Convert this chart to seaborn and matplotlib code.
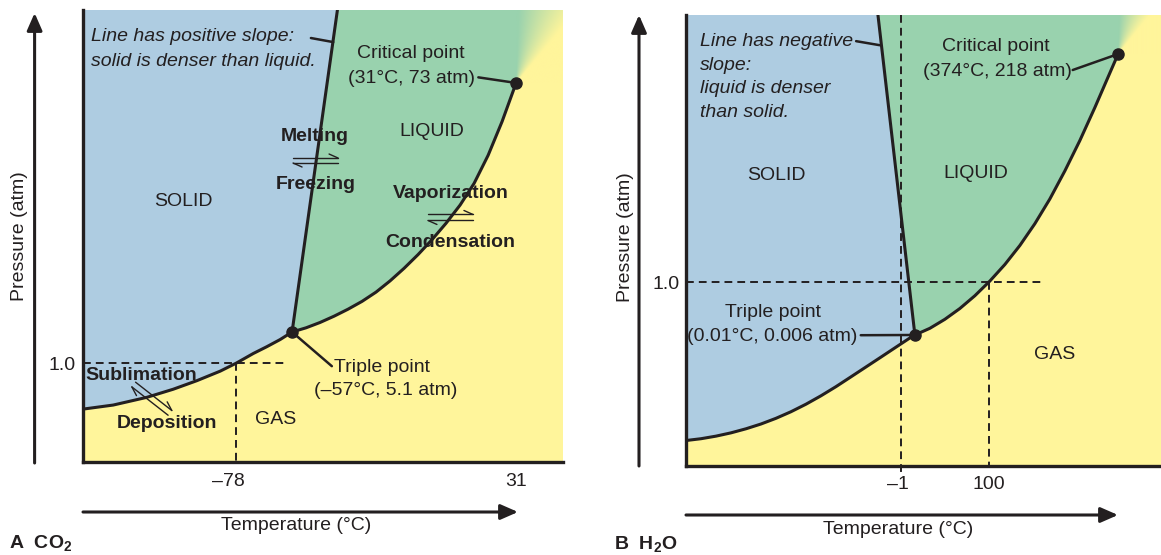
import numpy as np
import matplotlib.pyplot as plt
import matplotlib.colors as mcolors
import matplotlib.transforms as mtransforms
from matplotlib.patches import FancyArrowPatch
import seaborn as sns

# schematic units: 0-100 across the drawn phase box (not to scale)
# CO2 panel
co2_sub_t = [0.0, 6.5, 13.7, 19.4, 24.5, 29.5, 33.0, 36.6, 39.5, 42.4, 44.95]
co2_sub_p = [11.7, 12.6, 14.3, 16.1, 18.0, 20.1, 21.9, 24.0, 25.5, 27.1, 28.76]
co2_vap_t = [44.95, 47.96, 50.97, 53.98, 56.99, 60.0, 63.01, 66.02, 69.03, 72.04,
             75.05, 78.06, 81.08, 84.09, 87.1, 90.11, 93.12]
co2_vap_p = [28.76, 29.69, 30.87, 32.26, 33.81, 35.54, 37.59, 40.07, 42.85, 45.89,
             49.2, 52.83, 56.85, 61.65, 67.85, 75.34, 83.86]
co2_fus_t = [44.95, 54.7]
co2_fus_p = [28.76, 100.0]
co2_tick_t = [33.0, 93.12]
co2_tick_t_labels = ["–78", "31"]
co2_tick_p = [21.9]
co2_tick_p_labels = ["1.0"]

# H2O panel
h2o_sub_t = [0.0, 3.23, 6.45, 9.68, 12.9, 16.13, 19.35, 22.58, 25.81, 29.03, 32.26,
             35.48, 38.71, 41.94, 45.16, 48.39, 49.25]
h2o_sub_p = [5.65, 6.05, 6.62, 7.35, 8.25, 9.31, 10.57, 12.03, 13.7, 15.56, 17.59,
             19.76, 21.95, 24.14, 26.34, 28.54, 29.05]
h2o_vap_t = [49.25, 52.47, 55.7, 58.92, 62.15, 65.38, 68.6, 71.83, 75.05, 78.28,
             81.51, 84.73, 87.96, 91.18, 92.97]
h2o_vap_p = [29.05, 30.53, 32.53, 34.92, 37.75, 41.01, 44.67, 48.89, 53.71, 59.2,
             65.42, 72.14, 79.46, 87.11, 91.35]
h2o_fus_t = [49.25, 41.3]
h2o_fus_p = [29.05, 100.0]
h2o_tick_t = [46.2, 65.2]
h2o_tick_t_labels = ["–1", "100"]
h2o_tick_p = [40.7]
h2o_tick_p_labels = ["1.0"]

sns.set_style("white")
plt.rcParams["font.family"] = ["Liberation Sans", "DejaVu Sans"]
plt.rcParams["mathtext.fontset"] = "custom"
plt.rcParams["mathtext.rm"] = "Liberation Sans"
plt.rcParams["mathtext.bf"] = "Liberation Sans:bold"

INK = "#231f20"
BLUE = "#aecce1"
GREEN = "#99d2ae"
YELLOW = "#fff59b"
FS = 14
W, H = 1161, 555

fig = plt.figure(figsize=(W / 100, H / 100), dpi=100)


def px(x, y):
    return x / W, 1 - y / H


def add_box(left, top, right, bottom):
    return fig.add_axes([left / W, 1 - bottom / H, (right - left) / W, (bottom - top) / H])


def fig_arrow(x0, y0, x1, y1):
    fig.add_artist(FancyArrowPatch(px(x0, y0), px(x1, y1), transform=fig.transFigure,
                                   arrowstyle="-|>,head_length=10.5,head_width=4.6",
                                   mutation_scale=1, lw=2.2, color=INK,
                                   shrinkA=0, shrinkB=0))


def eq_arrows(ax, x, y, angle=0.0, length=45, gap=5, barb=9):
    # two half-headed arrows (forward on top, reverse below), sized in pixels
    tr = mtransforms.Affine2D().rotate_deg(angle) + mtransforms.ScaledTranslation(x, y, ax.transData)
    h, g = length / 2, gap / 2
    segs = [([-h, h], [g, g]), ([h, h - barb], [g, g + 4]),
            ([-h, h], [-g, -g]), ([-h, -h + barb], [-g, -g - 4])]
    for xs, ys in segs:
        ax.plot(xs, ys, transform=tr, color=INK, lw=1.0, zorder=6, clip_on=False)


def label(ax, x, y, s, **kw):
    opts = dict(fontsize=FS, color=INK, ha="center", va="center", zorder=7)
    opts.update(kw)
    ax.text(x, y, s, **opts)


def shift_tick_label(ax, i, dx_px):
    lab = ax.get_xticklabels()[i]
    lab.set_transform(lab.get_transform()
                      + mtransforms.ScaledTranslation(dx_px / 100, 0, fig.dpi_scale_trans))


def draw_panel(ax, sub_t, sub_p, vap_t, vap_p, fus_t, fus_p, xmax, sx, sy):
    triple = (sub_t[-1], sub_p[-1])
    crit = (vap_t[-1], vap_p[-1])
    ax.set_facecolor(YELLOW)
    ax.fill([0, fus_t[1]] + sub_t[::-1], [100, 100] + sub_p[::-1],
            color=BLUE, lw=0, zorder=1)
    ax.fill([fus_t[1], crit[0]] + vap_t[::-1], [100, 100] + vap_p[::-1],
            color=GREEN, lw=0, zorder=1)
    # supercritical fade from liquid to gas around the critical point
    gx = np.linspace(crit[0], xmax, 160)
    gy = np.linspace(crit[1], 100, 120)
    GX, GY = np.meshgrid(gx, gy)
    ang = np.degrees(np.arctan2((GX - crit[0]) * sx, (GY - crit[1]) * sy))
    t = np.clip((ang - 2) / 38, 0, 1)[..., None]
    rgb = (1 - t) * np.array(mcolors.to_rgb(GREEN)) + t * np.array(mcolors.to_rgb(YELLOW))
    ax.imshow(rgb, extent=[crit[0], xmax, crit[1], 100], origin="lower",
              aspect="auto", interpolation="bilinear", zorder=1)

    for xs, ys in [(sub_t, sub_p), (vap_t, vap_p), (fus_t, fus_p)]:
        ax.plot(xs, ys, color=INK, lw=2.2, solid_capstyle="round",
                solid_joinstyle="round", zorder=4)
    ax.plot(*triple, "o", ms=8, color=INK, zorder=6, clip_on=False)
    ax.plot(*crit, "o", ms=8, color=INK, zorder=6, clip_on=False)

    for side in ["top", "right"]:
        ax.spines[side].set_visible(False)
    for side in ["left", "bottom"]:
        ax.spines[side].set_linewidth(2.4)
        ax.spines[side].set_color(INK)
        ax.spines[side].set_zorder(5)
    ax.tick_params(length=0, labelsize=FS, colors=INK)
    ax.set_xlim(0, xmax)
    ax.set_ylim(0, 100)
    return triple, crit


DASH = dict(ls=(0, (4, 2.6)), lw=1.4, color=INK, zorder=3, clip_on=False)
LEAD = dict(color=INK, lw=1.8, zorder=5, clip_on=False)

# ---- panel A: CO2
ax1 = add_box(83, 10, 563, 462)
tp, cp = draw_panel(ax1, co2_sub_t, co2_sub_p, co2_vap_t, co2_vap_p,
                    co2_fus_t, co2_fus_p, 103.2, 4.65, 4.52)
ax1.set_xticks(co2_tick_t, co2_tick_t_labels)
ax1.set_yticks(co2_tick_p, co2_tick_p_labels)
ax1.tick_params(axis="x", pad=7.8)
ax1.tick_params(axis="y", pad=5)
shift_tick_label(ax1, 0, -8)
ax1.plot([0, 43.2], [co2_tick_p[0]] * 2, **DASH)
ax1.plot([co2_tick_t[0]] * 2, [co2_tick_p[0], 0], **DASH)

label(ax1, 1.7, 94.2, "Line has positive slope:", ha="left", fontstyle="italic")
label(ax1, 1.7, 88.7, "solid is denser than liquid.", ha="left", fontstyle="italic")
ax1.plot([49.0, 53.8], [93.8, 92.9], **LEAD)
label(ax1, 21.5, 57.7, "SOLID")
label(ax1, 75.1, 73.1, "LIQUID")
label(ax1, 41.5, 9.5, "GAS")
label(ax1, 49.9, 72.0, "Melting", fontweight="bold")
eq_arrows(ax1, 50.0, 66.7, gap=5)
label(ax1, 50.0, 61.4, "Freezing", fontweight="bold")
label(ax1, 79.0, 59.3, "Vaporization", fontweight="bold")
eq_arrows(ax1, 79.0, 54.1, gap=6)
label(ax1, 78.9, 48.5, "Condensation", fontweight="bold")
label(ax1, 12.6, 19.2, "Sublimation", fontweight="bold")
eq_arrows(ax1, 14.8, 14.0, angle=-38, length=46, gap=6)
label(ax1, 18.1, 8.6, "Deposition", fontweight="bold")
label(ax1, 70.5, 90.3, "Critical point")
label(ax1, 70.6, 84.9, "(31°C, 73 atm)")
ax1.plot([85.0, cp[0]], [85.1, cp[1]], **LEAD)
ax1.plot([tp[0], 53.5], [tp[1], 21.2], **LEAD)
label(ax1, 54.0, 21.0, "Triple point", ha="left")
label(ax1, 49.7, 15.9, "(–57°C, 5.1 atm)", ha="left")

# ---- panel B: H2O
ax2 = add_box(686, 15, 1161, 466)
tp, cp = draw_panel(ax2, h2o_sub_t, h2o_sub_p, h2o_vap_t, h2o_vap_p,
                    h2o_fus_t, h2o_fus_p, 102.2, 4.65, 4.51)
ax2.set_xticks(h2o_tick_t, h2o_tick_t_labels)
ax2.set_yticks(h2o_tick_p, h2o_tick_p_labels)
ax2.tick_params(axis="x", pad=7.2)
ax2.tick_params(axis="y", pad=4.5)
shift_tick_label(ax2, 0, -3)
ax2.plot([0, 76.8], [h2o_tick_p[0]] * 2, **DASH)
ax2.plot([h2o_tick_t[0]] * 2, [100, -1.3], **DASH)
ax2.plot([h2o_tick_t[1]] * 2, [h2o_tick_p[0], 0], **DASH)

for yy, line in zip([94.2, 88.9, 83.6, 78.3],
                    ["Line has negative", "slope:", "liquid is denser", "than solid."]):
    label(ax2, 3.0, yy, line, ha="left", fontstyle="italic")
ax2.plot([36.6, 41.7], [94.2, 93.3], **LEAD)
label(ax2, 19.4, 64.5, "SOLID")
label(ax2, 62.3, 64.9, "LIQUID")
label(ax2, 79.4, 24.8, "GAS")
label(ax2, 66.7, 93.0, "Critical point")
label(ax2, 67.1, 87.4, "(374°C, 218 atm)")
ax2.plot([83.2, cp[0]], [87.8, cp[1]], **LEAD)
label(ax2, 18.7, 34.1, "Triple point")
label(ax2, 18.6, 28.8, "(0.01°C, 0.006 atm)")
ax2.plot([37.6, tp[0]], [29.0, tp[1]], **LEAD)

# ---- outer axis arrows and titles
fig_arrow(34.6, 463, 34.6, 13)
fig_arrow(83, 512, 518, 512)
fig_arrow(639, 466, 639, 15)
fig_arrow(686, 515, 1118, 515)
fig.text(*px(20, 236), "Pressure (atm)", rotation=90, ha="center", va="center",
         fontsize=FS, color=INK)
fig.text(*px(625, 237), "Pressure (atm)", rotation=90, ha="center", va="center",
         fontsize=FS, color=INK)
fig.text(*px(296, 526), "Temperature (°C)", ha="center", va="center", fontsize=FS, color=INK)
fig.text(*px(898, 529), "Temperature (°C)", ha="center", va="center", fontsize=FS, color=INK)
fig.text(*px(9, 544), r"A  CO$_\mathbf{2}$", ha="left", va="center", fontsize=FS,
         fontweight="bold", color=INK)
fig.text(*px(614, 545), r"B  H$_\mathbf{2}$O", ha="left", va="center", fontsize=FS,
         fontweight="bold", color=INK)

fig.savefig("out.png", dpi=100)
